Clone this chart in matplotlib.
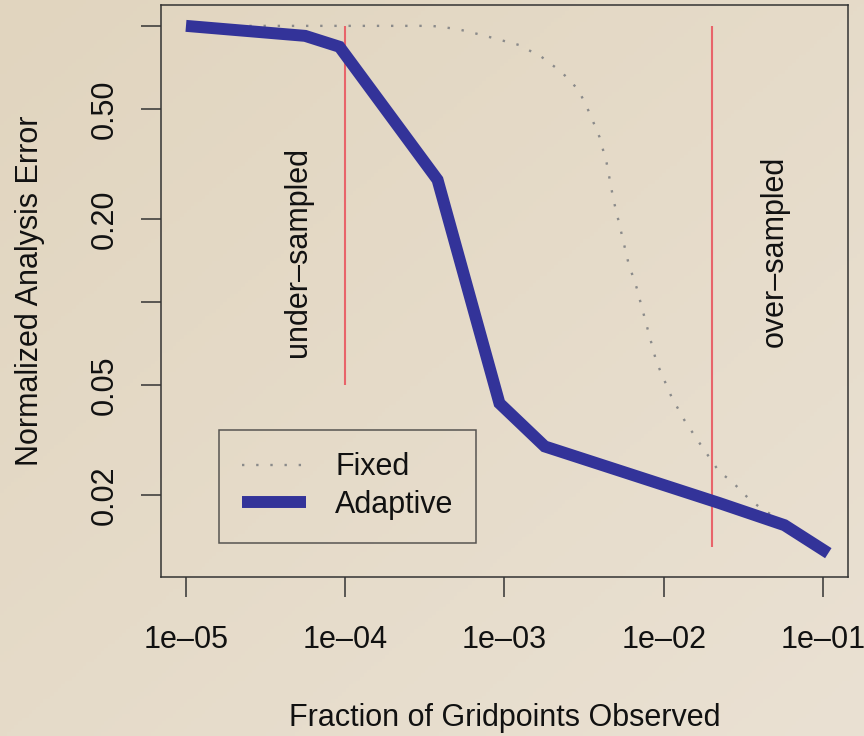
"""
Normalized analysis error vs fraction of gridpoints observed
(fixed vs adaptive sampling), log-log.

Output: out.png
"""

import matplotlib
matplotlib.use('Agg')
import matplotlib.pyplot as plt
import numpy as np

# Fixed sampling (dotted grey curve)
fixed_x = [2.5e-05, 2.0e-04, 3.49e-04, 5.01e-04, 7.2e-04, 1.23e-03, 1.71e-03, 2.28e-03,
           2.92e-03, 3.42e-03, 3.95e-03, 4.38e-03, 4.84e-03, 5.28e-03, 6.01e-03,
           6.75e-03, 7.80e-03, 9.0e-03, 0.0112, 0.0135, 0.0165, 0.0224, 0.0266,
           0.0345, 0.0399, 0.0573]
fixed_y = [1.0, 1.0, 1.0, 0.975, 0.927, 0.853, 0.772, 0.681,
           0.586, 0.484, 0.396, 0.319, 0.234, 0.190, 0.138,
           0.113, 0.0826, 0.0607, 0.0453, 0.0373, 0.0313, 0.0242, 0.0225,
           0.0193, 0.0181, 0.0158]

# Adaptive sampling (thick blue line)
adaptive_x = [1e-05, 5.6e-05, 9.2e-05, 3.8e-04, 9.3e-04, 1.79e-03, 0.0224, 0.0573, 0.108]
adaptive_y = [1.0, 0.92, 0.84, 0.277, 0.043, 0.030, 0.0187, 0.01556, 0.01232]

# regime markers
under_x, under_y = 1e-04, (0.05, 1.0)
over_x, over_y = 0.02, (0.013, 1.0)

x_ticks = [1e-05, 1e-04, 1e-03, 1e-02, 1e-01]
x_ticklabels = ['1e\u201305', '1e\u201304', '1e\u201303', '1e\u201302', '1e\u201301']
y_ticks = [0.02, 0.05, 0.1, 0.2, 0.5, 1.0]
y_ticklabels = ['0.02', '0.05', '', '0.20', '0.50', '']

plt.rcParams['font.family'] = ['Liberation Sans', 'DejaVu Sans']
FS = 22
INK = '#111111'

fig = plt.figure(figsize=(8.64, 7.36), dpi=100)

# beige background with a soft gradient
bg = fig.add_axes([0, 0, 1, 1], zorder=-10)
h, w = 200, 240
yy, xx = np.mgrid[0:h, 0:w]
t = (xx / w + yy / h) / 2.0
c0 = np.array([225, 213, 191]) / 255.0
c1 = np.array([234, 225, 211]) / 255.0
grad = c0[None, None, :] * (1 - t[..., None]) + c1[None, None, :] * t[..., None]
bg.imshow(grad, extent=[0, 1, 0, 1], aspect='auto', origin='upper')
bg.axis('off')

ax = fig.add_axes([161 / 864, 159 / 736, 687 / 864, 572 / 736])
ax.set_facecolor('none')
ax.set_xscale('log')
ax.set_yscale('log')

ax.plot(fixed_x, fixed_y, color='#8a8a8a', linewidth=1.7,
        linestyle=(0, (1, 5)), label='Fixed', zorder=2)
ax.plot(adaptive_x, adaptive_y, color='#333399', linewidth=8.6,
        solid_capstyle='butt', solid_joinstyle='miter', label='Adaptive', zorder=3)

ax.vlines(under_x, *under_y, color='#e8646a', linewidth=1.5, zorder=1)
ax.vlines(over_x, *over_y, color='#e8646a', linewidth=1.5, zorder=1)

ax.text(5.05e-05, 0.152, 'under\u2013sampled', rotation=90, fontsize=FS,
        ha='center', va='center', color=INK)
ax.text(0.05, 0.152, 'over\u2013sampled', rotation=90, fontsize=FS,
        ha='center', va='center', color=INK)

ax.set_xlim(6.97e-06, 0.1436)
ax.set_ylim(0.0101, 1.19)

ax.set_xticks(x_ticks)
ax.set_xticklabels(x_ticklabels)
ax.set_yticks(y_ticks)
ax.set_yticklabels(y_ticklabels, rotation=90, va='center')
ax.minorticks_off()
ax.tick_params(axis='both', direction='out', length=14.4, width=1.1,
               color='#333333', labelsize=FS, labelcolor=INK)
ax.tick_params(axis='x', pad=20)
ax.tick_params(axis='y', pad=15.5)

for s in ax.spines.values():
    s.set_linewidth(1.1)
    s.set_color('#333333')

ax.set_xlabel('Fraction of Gridpoints Observed', fontsize=FS, color=INK, labelpad=35)
ax.set_ylabel('Normalized Analysis Error', fontsize=FS, color=INK, labelpad=32)

leg = ax.legend(loc='lower left', bbox_to_anchor=(0.0844, 0.0594), borderaxespad=0,
                fontsize=FS, frameon=True, fancybox=False, handlelength=2.1,
                handletextpad=0.95, labelspacing=0.25, borderpad=0.75)
leg.get_frame().set_edgecolor('#333333')
leg.get_frame().set_linewidth(1.1)
leg.get_frame().set_facecolor('none')
for txt in leg.get_texts():
    txt.set_color(INK)

fig.savefig('out.png', dpi=100)
plt.close(fig)
